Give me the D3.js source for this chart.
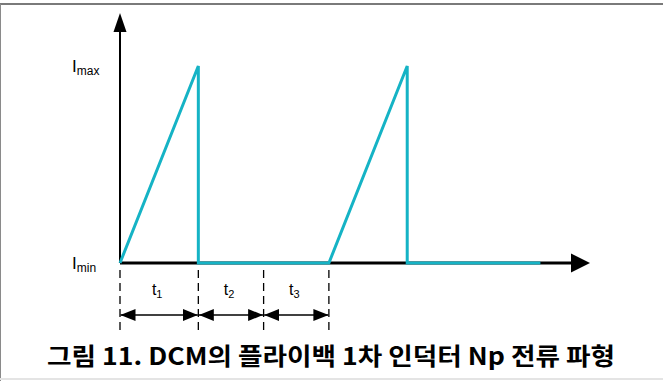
<!DOCTYPE html>
<html>
<head>
<meta charset="utf-8">
<script src="https://cdn.jsdelivr.net/npm/d3@7"></script>
<style>
  html, body { margin: 0; padding: 0; background: #fff; }
  svg { display: block; }
</style>
</head>
<body>
<svg id="chart" width="663" height="381"></svg>
<script>
// Primary-side current waveform in DCM (time in arbitrary units, current normalised 0..1)
const waveTimes   = [0, 6, 6, 11, 16, 22, 22, 32.2];
const waveCurrent = [0, 1, 0, 0,  0,  1,  0,  0];

// Interval markers below the time axis
const intervalNames  = ["1", "2", "3"];
const intervalBounds = [0, 6, 11, 16];

// Y-axis level labels
const levelNames  = ["max", "min"];
const levelValues = [1, 0];

const titleText = "그림 11. DCM의 플라이백 1차 인덕터 Np 전류 파형";

const svg = d3.select("#chart");
const W = 663, H = 381;

const x = d3.scaleLinear().domain([0, 36]).range([120, 590]);
const y = d3.scaleLinear().domain([0, 1]).range([263, 66]);

const defs = svg.append("defs");
function arrowMarker(id, orient) {
  defs.append("marker")
    .attr("id", id)
    .attr("viewBox", "0 0 15 12")
    .attr("refX", 15).attr("refY", 6)
    .attr("markerWidth", 15).attr("markerHeight", 12)
    .attr("markerUnits", "userSpaceOnUse")
    .attr("orient", orient)
    .append("path").attr("d", "M0,0 L15,6 L0,12 Z").attr("fill", "#000");
}

// Frame
svg.append("line").attr("x1", 0).attr("x2", W).attr("y1", 4).attr("y2", 4)
  .attr("stroke", "#7a7a7a").attr("stroke-width", 2);
svg.append("line").attr("x1", 0.5).attr("x2", 0.5).attr("y1", 4).attr("y2", H)
  .attr("stroke", "#8a8a8a").attr("stroke-width", 1);
svg.append("line").attr("x1", 0).attr("x2", W).attr("y1", 379).attr("y2", 379)
  .attr("stroke", "#e4e4e4").attr("stroke-width", 2);

// Axes with filled arrow heads
const axisTop = 13, axisRight = 590;
svg.append("line").attr("x1", x(0)).attr("x2", x(0)).attr("y1", y(0)).attr("y2", 30)
  .attr("stroke", "#000").attr("stroke-width", 2);
svg.append("path")
  .attr("d", `M${x(0)},${axisTop} L${x(0) + 6.5},32 L${x(0) - 6.5},32 Z`).attr("fill", "#000");
svg.append("line").attr("x1", x(0)).attr("x2", axisRight - 18).attr("y1", y(0)).attr("y2", y(0))
  .attr("stroke", "#000").attr("stroke-width", 3);
svg.append("path")
  .attr("d", `M${axisRight},${y(0)} L${axisRight - 19},${y(0) - 9.5} L${axisRight - 19},${y(0) + 9.5} Z`)
  .attr("fill", "#000");

// Waveform
const wave = waveTimes.map((t, i) => [t, waveCurrent[i]]);
svg.append("path")
  .datum(wave)
  .attr("d", d3.line().x(d => x(d[0])).y(d => y(d[1])))
  .attr("fill", "none")
  .attr("stroke", "#15b3c5")
  .attr("stroke-width", 3)
  .attr("stroke-linejoin", "miter");

// Level labels (I with subscript)
levelValues.forEach((v, i) => {
  const t = svg.append("text")
    .attr("x", 72).attr("y", y(v) + 6)
    .attr("font-family", "Liberation Sans, Arial, sans-serif")
    .attr("fill", "#000");
  t.append("tspan").attr("font-size", 17).text("I");
  t.append("tspan").attr("font-size", 12).attr("dy", 3).text(levelNames[i]);
});

// Dashed interval boundaries
svg.selectAll(".bound").data(intervalBounds).enter().append("line")
  .attr("x1", d => x(d)).attr("x2", d => x(d))
  .attr("y1", 270).attr("y2", 334)
  .attr("stroke", "#000").attr("stroke-width", 1.3)
  .attr("stroke-dasharray", "8,5");

// Double-headed interval arrows
arrowMarker("ah", "auto");
arrowMarker("ahs", "auto-start-reverse");
d3.range(intervalNames.length).forEach(i => {
  const a = x(intervalBounds[i]), b = x(intervalBounds[i + 1]);
  svg.append("line")
    .attr("x1", a + 0.5).attr("x2", b - 0.5).attr("y1", 315).attr("y2", 315)
    .attr("stroke", "#000").attr("stroke-width", 1.3)
    .attr("marker-start", "url(#ahs)")
    .attr("marker-end", "url(#ah)");
  const t = svg.append("text")
    .attr("x", (a + b) / 2 - 2).attr("y", 295)
    .attr("text-anchor", "middle")
    .attr("font-family", "Liberation Sans, Arial, sans-serif")
    .attr("fill", "#000");
  t.append("tspan").attr("font-size", 16).text("t");
  t.append("tspan").attr("font-size", 11).attr("dy", 3).text(intervalNames[i]);
});

// Caption
svg.append("text")
  .attr("x", 331).attr("y", 365)
  .attr("text-anchor", "middle")
  .attr("font-family", "Noto Sans CJK KR, sans-serif")
  .attr("font-weight", "bold")
  .attr("font-size", 24)
  .attr("textLength", 568)
  .attr("lengthAdjust", "spacingAndGlyphs")
  .attr("fill", "#000")
  .text(titleText);
</script>
</body>
</html>
